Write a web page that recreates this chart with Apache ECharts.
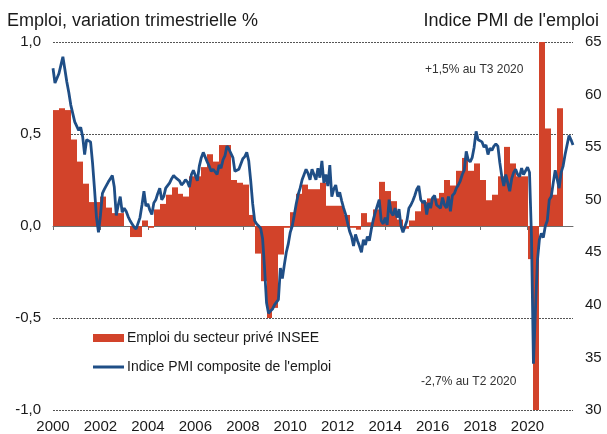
<!DOCTYPE html>
<html>
<head>
<meta charset="utf-8">
<script src="https://cdn.jsdelivr.net/npm/echarts@6/dist/echarts.min.js"></script>
<style>
  html, body { margin: 0; padding: 0; background: #fff; }
  #chart { width: 607px; height: 434px; }
</style>
</head>
<body>
<div id="chart"></div>
<script>
// ── Data ──────────────────────────────────────────────────────────────
// INSEE private-sector employment, quarterly change in % (2000 T1 .. 2021 T2)
const empValues = [
  0.63, 0.64, 0.63, 0.47,   // 2000
  0.35, 0.23, 0.13, 0.13,   // 2001
  0.16, 0.10, 0.07, 0.07,   // 2002
  0.00, -0.06, -0.06, 0.03, // 2003
  -0.01, 0.09, 0.12, 0.17,  // 2004
  0.21, 0.175, 0.16, 0.27,  // 2005
  0.27, 0.32, 0.39, 0.35,   // 2006
  0.44, 0.44, 0.25, 0.235,  // 2007
  0.225, 0.06, -0.15, -0.30, // 2008
  -0.50, -0.445, -0.155, -0.01, // 2009
  0.075, 0.175, 0.225, 0.20, // 2010
  0.20, 0.235, 0.11, 0.11,  // 2011
  0.11, 0.06, -0.01, -0.02, // 2012
  0.07, 0.02, 0.09, 0.24,   // 2013
  0.19, 0.135, 0.035, -0.015, // 2014
  0.03, 0.08, 0.13, 0.15,   // 2015
  0.15, 0.18, 0.25, 0.22,   // 2016
  0.30, 0.37, 0.30, 0.34,   // 2017
  0.25, 0.14, 0.17, 0.27,   // 2018
  0.43, 0.34, 0.27, 0.27,   // 2019
  -0.18, -2.7, 1.5, 0.53,   // 2020
  0.17, 0.64                // 2021
];

// PMI composite employment index, monthly (Jan 2000 .. Dec 2021)
const pmiValues = [
  62.5, 61.1, 61.2, 62.0, 62.8, 63.6, 62.4, 61.2, 60.2, 59.0, 58.9, 57.4, // 2000
  57.4, 56.6, 56.9, 56.0, 54.3, 55.7, 55.7, 55.5, 53.5, 51.0, 48.3, 46.9, // 2001
  48.5, 50.6, 51.0, 51.1, 51.7, 52.0, 52.3, 51.2, 48.5, 49.5, 50.3, 48.8, // 2002
  49.2, 48.9, 48.4, 48.0, 47.7, 47.4, 47.2, 47.1, 48.3, 49.5, 50.8, 49.4, // 2003
  49.6, 49.0, 48.6, 49.7, 50.0, 50.6, 51.1, 50.0, 50.3, 51.1, 51.2, 51.6, // 2004
  52.0, 52.3, 52.1, 52.2, 51.8, 51.4, 51.6, 51.9, 51.7, 51.2, 52.4, 52.8, // 2005
  52.9, 51.8, 53.2, 54.0, 54.5, 54.4, 53.6, 53.2, 52.7, 52.9, 53.0, 52.4, // 2006
  53.3, 53.0, 53.8, 54.2, 55.1, 54.8, 54.8, 54.0, 52.7, 52.8, 52.9, 53.0, // 2007
  53.9, 54.1, 54.5, 53.7, 51.8, 49.6, 48.0, 47.7, 47.5, 47.3, 46.3, 43.5, // 2008
  40.2, 39.2, 39.4, 39.6, 40.0, 40.0, 40.5, 43.5, 42.5, 43.8, 45.0, 45.8, // 2009
  46.9, 47.5, 48.5, 49.6, 50.5, 51.1, 51.9, 52.4, 52.9, 52.5, 51.9, 52.9, // 2010
  52.9, 51.9, 53.0, 52.1, 53.7, 51.6, 52.4, 51.3, 53.3, 50.3, 51.0, 51.4, // 2011
  50.3, 50.7, 49.9, 49.2, 48.6, 47.8, 47.0, 46.5, 45.6, 46.7, 46.1, 45.6, // 2012
  45.0, 46.2, 45.7, 46.5, 46.1, 47.2, 48.1, 48.8, 49.4, 50.0, 48.0, 47.7, // 2013
  48.3, 47.6, 50.0, 48.8, 48.5, 49.2, 48.3, 49.1, 47.5, 46.9, 47.0, 48.0, // 2014
  49.2, 49.5, 49.9, 50.4, 51.0, 51.3, 50.0, 49.7, 49.9, 48.6, 49.7, 49.2, // 2015
  50.2, 50.4, 49.5, 49.6, 49.2, 50.2, 49.5, 49.2, 50.3, 48.9, 50.4, 50.6, // 2016
  51.1, 51.4, 51.8, 52.4, 52.8, 54.6, 53.8, 53.6, 54.0, 55.0, 56.5, 55.7, // 2017
  55.8, 55.5, 55.0, 55.2, 54.3, 54.9, 54.7, 55.1, 55.3, 55.1, 53.5, 52.2, // 2018
  51.3, 52.4, 51.6, 50.8, 52.0, 52.6, 52.9, 52.4, 52.2, 53.0, 52.4, 52.5, // 2019
  53.1, 52.6, 46.5, 34.4, 39.5, 44.2, 46.2, 46.8, 46.4, 47.5, 48.0, 50.0, // 2020
  50.3, 51.6, 52.8, 52.8, 51.1, 52.6, 53.2, 54.3, 54.3, 56.1, 55.7, 55.2  // 2021
];

const yearTicks = [2000, 2002, 2004, 2006, 2008, 2010, 2012, 2014, 2016, 2018, 2020];

const firstYear = 2000;
const empName = 'Emploi du secteur privé INSEE';
const pmiName = "Indice PMI composite de l'emploi";

// quarter labels 'YYYY T#' and month labels 'YYYY-MM'
const empQuarters = empValues.map((_, i) => (firstYear + Math.floor(i / 4)) + ' T' + (i % 4 + 1));
const pmiMonths = pmiValues.map((_, i) => (firstYear + Math.floor(i / 12)) + '-' + String(i % 12 + 1).padStart(2, '0'));

function quarterToX(label) {
  const [y, q] = label.split(' T');
  return +y + (+q - 1) / 4;
}
function monthToX(label) {
  const [y, m] = label.split('-');
  return +y + (+m - 1) / 12;
}

const xMin = firstYear;
const xMax = monthToX(pmiMonths[pmiMonths.length - 1]);

const FONT = '"Liberation Sans", Arial, sans-serif';
const TEXT = '#1a1a1a';
const BAR_COLOR = '#d2432a';
const LINE_COLOR = '#1f4e86';

const chart = echarts.init(document.getElementById('chart'), null, { renderer: 'canvas' });

// quarterly bar: from start of quarter to start of next, snapped to whole pixels
function renderBar(params, api) {
  const x0 = api.value(0);
  const v = api.value(1);
  const a = api.coord([x0, 0]);
  const b = api.coord([x0 + 0.25, v]);
  const left = Math.round(a[0]);
  const right = Math.round(b[0]);
  const rect = echarts.graphic.clipRectByRect(
    { x: left, y: Math.min(a[1], b[1]), width: right - left, height: Math.abs(b[1] - a[1]) },
    { x: params.coordSys.x, y: params.coordSys.y, width: params.coordSys.width, height: params.coordSys.height }
  );
  if (!rect) return;
  return {
    type: 'rect',
    shape: rect,
    style: { fill: BAR_COLOR }
  };
}

const fmtComma = v => v.toFixed(1).replace('.', ',');

chart.setOption({
  backgroundColor: '#ffffff',
  animation: false,
  textStyle: { fontFamily: FONT },
  title: [
    { text: 'Emploi, variation trimestrielle %', left: 2, top: 7,
      textStyle: { fontSize: 18, fontWeight: 'normal', color: TEXT, fontFamily: FONT } },
    { text: "Indice PMI de l'emploi", right: 3, top: 7,
      textStyle: { fontSize: 18, fontWeight: 'normal', color: TEXT, fontFamily: FONT } }
  ],
  legend: [
    { data: [{ name: empName, icon: 'rect' }], left: 88, top: 326, itemWidth: 31, itemHeight: 8,
      textStyle: { fontSize: 14, color: TEXT, fontFamily: FONT, padding: [0, 0, 0, -2] } },
    { data: [{ name: pmiName, icon: 'rect', itemStyle: { color: LINE_COLOR } }], left: 88, top: 355, itemWidth: 31, itemHeight: 3,
      textStyle: { fontSize: 14, color: TEXT, fontFamily: FONT, padding: [0, 0, 0, -2] } }
  ],
  grid: { left: 53, right: 34, top: 42, bottom: 23, containLabel: false },
  xAxis: [
    {
      type: 'value', min: xMin, max: xMax, position: 'bottom',
      axisLine: { show: false }, axisTick: { show: false }, splitLine: { show: false },
      axisLabel: { customValues: yearTicks, formatter: v => String(v), fontSize: 15, color: TEXT, margin: 9 }
    },
    {
      type: 'value', min: xMin, max: xMax, position: 'bottom',
      axisLine: { show: true, onZero: true, onZeroAxisIndex: 0, lineStyle: { color: '#6e6e6e', width: 1 } },
      axisTick: { show: true, customValues: yearTicks, length: 4, lineStyle: { color: '#6e6e6e' } },
      axisLabel: { show: false }, splitLine: { show: false }
    }
  ],
  yAxis: [
    {
      type: 'value', min: -1, max: 1, interval: 0.5, position: 'left',
      axisLine: { show: false }, axisTick: { show: false },
      axisLabel: { formatter: fmtComma, fontSize: 15, color: TEXT, margin: 12 },
      splitLine: { show: true, lineStyle: { color: '#555', width: 1, type: [2, 1] } }
    },
    {
      type: 'value', min: 30, max: 65, interval: 5, position: 'right',
      axisLine: { show: false }, axisTick: { show: false },
      axisLabel: { fontSize: 15, color: TEXT, margin: 12 },
      splitLine: { show: false }
    }
  ],
  series: [
    {
      name: empName,
      type: 'custom',
      xAxisIndex: 0, yAxisIndex: 0,
      itemStyle: { color: BAR_COLOR },
      renderItem: renderBar,
      encode: { x: 0, y: 1 },
      data: empQuarters.map((q, i) => [quarterToX(q), empValues[i]]),
      z: 2
    },
    {
      name: pmiName,
      type: 'line',
      xAxisIndex: 0, yAxisIndex: 1,
      symbol: 'none',
      lineStyle: { color: LINE_COLOR, width: 2.8 },
      itemStyle: { color: LINE_COLOR },
      data: pmiMonths.map((m, i) => [monthToX(m), pmiValues[i]]),
      z: 4
    }
  ],
  graphic: [
    { type: 'text', left: 425, top: 64, z: 10,
      style: { text: '+1,5% au T3 2020', font: '12px ' + FONT, fill: '#333' } },
    { type: 'text', left: 421, top: 376, z: 10,
      style: { text: '-2,7% au T2 2020', font: '12px ' + FONT, fill: '#333' } }
  ]
});
</script>
</body>
</html>
